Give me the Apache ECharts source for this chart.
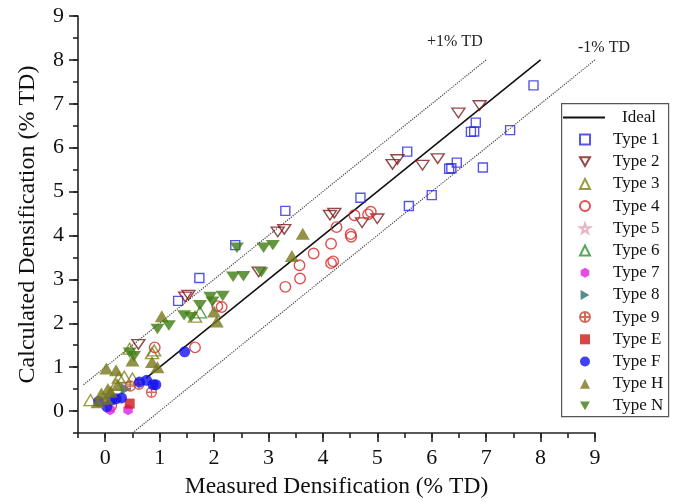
<!DOCTYPE html>
<html>
<head>
<meta charset="utf-8">
<script src="https://cdn.jsdelivr.net/npm/echarts@6/dist/echarts.min.js"></script>
<style>
  html, body { margin: 0; padding: 0; background: #ffffff; }
  #chart { width: 678px; height: 502px; }
</style>
</head>
<body>
<div id="chart"></div>
<script>
// Measured vs calculated densification, [measured, calculated] in % TD
const type1 = [[1.34,2.51],[1.73,3.03],[2.39,3.78],[3.31,4.56],[4.69,4.86],[5.58,4.67],[6.00,4.92],
  [6.32,5.52],[6.36,5.53],[6.46,5.66],[6.94,5.55],[5.55,5.91],[6.72,6.36],[6.78,6.37],[7.44,6.40],
  [6.81,6.57],[7.87,7.42]];
const type2 = [[0.61,1.52],[1.47,2.60],[1.53,2.64],[2.82,3.17],[3.17,4.08],[3.29,4.14],[4.13,4.46],
  [4.21,4.51],[4.72,4.29],[5.00,4.38],[5.28,5.62],[5.37,5.73],[5.83,5.60],[6.11,5.75],[6.49,6.79],[6.88,6.96]];
const type3 = [[-0.27,0.25],[0.20,0.60],[0.25,0.76],[0.35,0.78],[0.50,0.74],[0.45,1.42],[0.86,1.32],
  [0.90,1.38],[1.65,2.15]];
const type4 = [[0.11,0.12],[0.91,1.45],[1.65,1.45],[2.06,2.39],[2.14,2.37],[3.31,2.83],[3.58,3.02],
  [3.57,3.32],[4.15,3.37],[4.19,3.41],[3.83,3.59],[4.15,3.81],[4.51,4.03],[4.52,3.97],[4.25,4.19],
  [4.58,4.46],[4.83,4.48],[4.88,4.54]];
const type5 = [];
const type6 = [[1.74,2.25]];
const type7 = [[0.09,0.03],[0.42,0.03]];
const type8 = [[0.38,0.50]];
const type9 = [[0.46,0.57],[0.62,0.61],[0.85,0.43]];
const typeE = [[0.45,0.17]];
const typeF = [[-0.12,0.22],[0.03,0.10],[0.12,0.25],[0.20,0.28],[0.30,0.30],[0.63,0.66],[0.76,0.70],
  [0.88,0.60],[0.93,0.60],[1.46,1.35]];
const typeH = [[-0.14,0.20],[-0.07,0.40],[0.02,0.28],[0.05,0.50],[0.10,0.44],[0.23,0.60],[0.02,0.97],
  [0.20,0.93],[0.50,1.15],[0.86,1.12],[0.96,1.00],[1.04,2.16],[2.00,2.27],[2.05,2.04],[3.43,3.53],[3.63,4.04]];
const typeN = [[0.45,1.33],[0.53,1.25],[0.96,1.87],[1.17,1.95],[1.45,2.18],[1.58,2.14],[1.74,2.41],
  [1.93,2.60],[1.97,2.49],[2.16,2.62],[2.35,3.06],[2.54,3.07],[2.87,3.16],[2.42,3.72],[2.91,3.72],[3.08,3.78]];

// Reference lines: ideal (y = x) and the ±1 % TD bands
const idealLine = [[0.75,0.75],[8,8]];
const plusLine = [[-0.4,0.6],[7,8]];
const minusLine = [[0.5,-0.5],[9,8]];

const majorTicks = [0,1,2,3,4,5,6,7,8,9];
const typeNames = ['Type 1','Type 2','Type 3','Type 4','Type 5','Type 6','Type 7',
  'Type 8','Type 9','Type E','Type F','Type H','Type N'];

const SERIF = '"Liberation Serif", "Times New Roman", serif';
const INV_TRI = 'path://M0,0 L100,0 L50,87 Z';
const RIGHT_TRI = 'path://M0,0 L87,50 L0,100 Z';
const HEXAGON = 'path://M50,0 L93,25 L93,75 L50,100 L7,75 L7,25 Z';
const STAR = 'path://M50,0 L61,35 L98,35 L68,57 L79,91 L50,70 L21,91 L32,57 L2,35 L39,35 Z';
const CIRCLE_PLUS = 'path://M0,50 A50,50 0 1,1 100,50 A50,50 0 1,1 0,50 Z M0,50 L100,50 M50,0 L50,100';

function hollow(name, data, symbol, size, color) {
  return {
    name, type: 'scatter', data, symbol, symbolSize: size, clip: false, symbolKeepAspect: true,
    itemStyle: { color: 'rgba(255,255,255,0)', borderColor: color, borderWidth: 1.4 }
  };
}
function solid(name, data, symbol, size, color) {
  return { name, type: 'scatter', data, symbol, symbolSize: size, clip: false, symbolKeepAspect: true,
    itemStyle: { color: color } };
}
function refLine(name, data, style) {
  return { name, type: 'line', data, symbol: 'none', showSymbol: false, silent: true,
    lineStyle: style, itemStyle: { color: style.color }, z: 1 };
}

function valueAxis(extra) {
  return Object.assign({
    type: 'value', min: -0.5, max: 9,
    splitLine: { show: false }
  }, extra);
}

const axisLineStyle = { color: '#222', width: 1.6 };
const mainX = valueAxis({
  position: 'bottom',
  axisLine: { show: true, onZero: false, lineStyle: axisLineStyle },
  axisTick: { show: true, customValues: majorTicks, length: 9, lineStyle: axisLineStyle },
  axisLabel: { customValues: majorTicks, fontFamily: SERIF, fontSize: 22, color: '#111', margin: 14 },
  name: 'Measured Densification (% TD)', nameLocation: 'middle', nameGap: 42,
  nameTextStyle: { fontFamily: SERIF, fontSize: 23.5, color: '#111' }
});
const minorX = valueAxis({
  position: 'bottom', interval: 0.5,
  axisLine: { show: false, onZero: false },
  axisTick: { show: true, length: 5, lineStyle: axisLineStyle },
  axisLabel: { show: false }
});
const mainY = valueAxis({
  position: 'left',
  axisLine: { show: true, onZero: false, lineStyle: axisLineStyle },
  axisTick: { show: true, customValues: majorTicks, length: 9, lineStyle: axisLineStyle },
  axisLabel: { customValues: majorTicks, fontFamily: SERIF, fontSize: 22, color: '#111', margin: 14 },
  name: 'Calculated Densification (% TD)', nameLocation: 'middle', nameGap: 38,
  nameTextStyle: { fontFamily: SERIF, fontSize: 24, color: '#111' }
});
const minorY = valueAxis({
  position: 'left', interval: 0.5,
  axisLine: { show: false, onZero: false },
  axisTick: { show: true, length: 5, lineStyle: axisLineStyle },
  axisLabel: { show: false }
});

const legendText = { fontFamily: SERIF, fontSize: 17, color: '#111' };

const chart = echarts.init(document.getElementById('chart'), null, { renderer: 'canvas' });
chart.setOption({
  backgroundColor: '#ffffff',
  animation: false,
  grid: { left: 78, top: 16, width: 517, height: 417, outerBoundsMode: 'none', containLabel: false },
  xAxis: [mainX, minorX],
  yAxis: [mainY, minorY],
  legend: [
    {
      orient: 'vertical', left: 563, top: 109, padding: 0,
      itemWidth: 42, itemHeight: 2, icon: 'rect',
      textStyle: Object.assign({ padding: [0, 0, 0, 12] }, legendText),
      data: ['Ideal']
    },
    {
      orient: 'vertical', left: 579, top: 131, padding: 0,
      itemWidth: 10, itemHeight: 10, itemGap: 5.2,
      textStyle: Object.assign({ padding: [0, 0, 0, 18] }, legendText),
      data: typeNames
    }
  ],
  graphic: [
    { type: 'rect', left: 561, top: 103, z: -1, silent: true,
      shape: { width: 107, height: 313 },
      style: { fill: '#ffffff', stroke: '#555', lineWidth: 1.2 } },
    { type: 'text', left: 427, top: 34, style: { text: '+1% TD', font: '16px ' + SERIF, fill: '#222' } },
    { type: 'text', left: 578, top: 40, style: { text: '-1% TD', font: '16px ' + SERIF, fill: '#222' } }
  ],
  series: [
    refLine('+1% TD line', plusLine, { color: '#444', width: 1.2, type: 'dotted' }),
    refLine('-1% TD line', minusLine, { color: '#444', width: 1.2, type: 'dotted' }),
    refLine('Ideal', idealLine, { color: '#111', width: 1.6 }),
    hollow('Type 1', type1, 'rect', 9, '#2b2be6'),
    hollow('Type 2', type2, INV_TRI, [13, 11], '#7b1a1a'),
    hollow('Type 3', type3, 'triangle', [13, 11], '#7f7f14'),
    hollow('Type 4', type4, 'circle', 10.5, '#d92424'),
    hollow('Type 5', type5, STAR, 12, '#e2a3b3'),
    hollow('Type 6', type6, 'triangle', [13, 11], '#2f8f2f'),
    solid('Type 7', type7, HEXAGON, 11, '#e01ee0'),
    solid('Type 8', type8, RIGHT_TRI, [12, 12], '#2e6e6e'),
    hollow('Type 9', type9, CIRCLE_PLUS, 10, '#c8452f'),
    solid('Type E', typeE, 'rect', 10, '#d01818'),
    solid('Type F', typeF, 'circle', 11, '#1111ee'),
    solid('Type H', typeH, 'triangle', [14, 12], '#77771a'),
    solid('Type N', typeN, INV_TRI, [14, 12], '#3e7d14')
  ]
});
</script>
</body>
</html>
